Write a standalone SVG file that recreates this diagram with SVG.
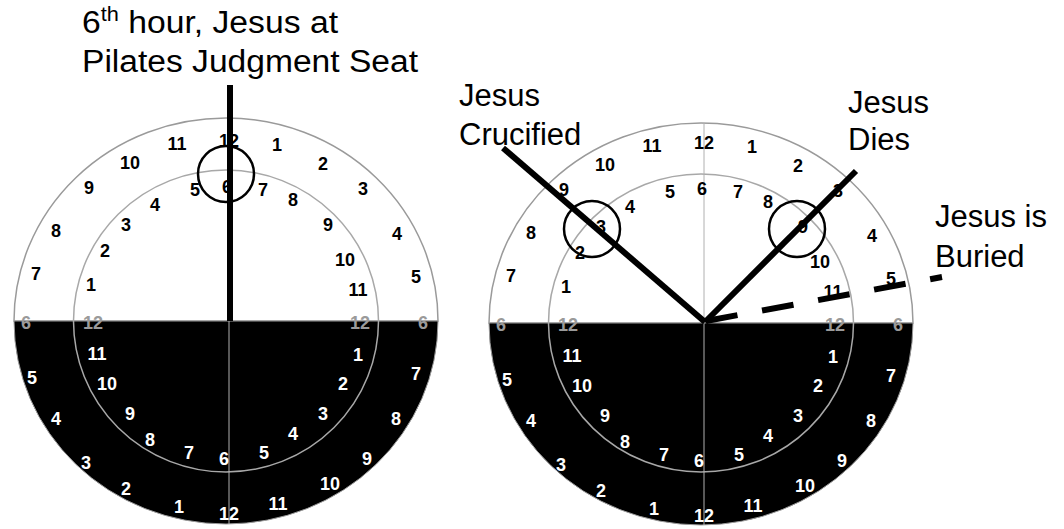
<svg xmlns="http://www.w3.org/2000/svg" width="1064" height="529" viewBox="0 0 1064 529">
<style>
.up{fill:#fff;stroke:#9a9a9a;stroke-width:1.5}
.dn{fill:#000;stroke:#9a9a9a;stroke-width:1}
.ring{fill:none;stroke:#a8a8a8;stroke-width:1.5}
.axis{stroke:#b0b0b0;stroke-width:1}
.n{font-family:"Liberation Sans",Arial,sans-serif;font-weight:bold;font-size:18px;text-anchor:middle}
.b{fill:#000}
.w{fill:#fff}
.g{fill:#9a9a9a}
.lbl{font-family:"Liberation Sans",Arial,sans-serif;font-size:31px;fill:#000}
.hand{stroke:#000;stroke-width:6;fill:none}
.mark{stroke:#000;stroke-width:2.5;fill:none}
</style>
<rect width="1064" height="529" fill="#fff"/>

<g id="clock-left" transform="translate(226,321)">
<path class="up" d="M-212 0 A212 203 0 0 1 212 0 Z"/>
<path class="dn" d="M-212 0 A212 203 0 0 0 212 0 Z"/>
<ellipse class="ring" cx="0" cy="0" rx="152.5" ry="151"/>
<line class="axis" x1="3" y1="-203" x2="3" y2="203"/>
<g class="n">
<text class="g" x="-200" y="8">6</text>
<text class="b" x="-190" y="-41">7</text>
<text class="b" x="-170" y="-84">8</text>
<text class="b" x="-137" y="-127">9</text>
<text class="b" x="-96" y="-152">10</text>
<text class="b" x="-49" y="-171">11</text>
<text class="b" x="3" y="-174">12</text>
<text class="b" x="51" y="-170">1</text>
<text class="b" x="97" y="-151">2</text>
<text class="b" x="137" y="-126">3</text>
<text class="b" x="171" y="-81">4</text>
<text class="b" x="190" y="-38">5</text>
<text class="g" x="197" y="8">6</text>
<text class="w" x="-194" y="63">5</text>
<text class="w" x="-170" y="104">4</text>
<text class="w" x="-140" y="148">3</text>
<text class="w" x="-100" y="174">2</text>
<text class="w" x="-47" y="192">1</text>
<text class="w" x="3" y="199">12</text>
<text class="w" x="52" y="189">11</text>
<text class="w" x="104" y="169">10</text>
<text class="w" x="141" y="144">9</text>
<text class="w" x="170" y="104">8</text>
<text class="w" x="190" y="59">7</text>
<text class="g" x="-133" y="8">12</text>
<text class="b" x="-135" y="-30">1</text>
<text class="b" x="-121" y="-64">2</text>
<text class="b" x="-100" y="-90">3</text>
<text class="b" x="-71" y="-110">4</text>
<text class="b" x="-31" y="-125">5</text>
<text class="b" x="1" y="-128">6</text>
<text class="b" x="37" y="-125">7</text>
<text class="b" x="67" y="-115">8</text>
<text class="b" x="102" y="-90">9</text>
<text class="b" x="119" y="-55">10</text>
<text class="b" x="132" y="-25">11</text>
<text class="g" x="134" y="8">12</text>
<text class="w" x="-129" y="39">11</text>
<text class="w" x="-119" y="69">10</text>
<text class="w" x="-96" y="99">9</text>
<text class="w" x="-76" y="125">8</text>
<text class="w" x="-37" y="138">7</text>
<text class="w" x="-2" y="144">6</text>
<text class="w" x="38" y="138">5</text>
<text class="w" x="67" y="119">4</text>
<text class="w" x="97" y="99">3</text>
<text class="w" x="117" y="69">2</text>
<text class="w" x="132" y="40">1</text>
</g>
</g>

<g id="clock-right" transform="translate(701,323)">
<path class="up" d="M-212 0 A212 200 0 0 1 212 0 Z"/>
<path class="dn" d="M-212 0 A212 202 0 0 0 212 0 Z"/>
<ellipse class="ring" cx="0" cy="0" rx="152.5" ry="149"/>
<line class="axis" x1="3" y1="-200" x2="3" y2="202"/>
<g class="n">
<text class="g" x="-200" y="8">6</text>
<text class="b" x="-190" y="-41">7</text>
<text class="b" x="-170" y="-84">8</text>
<text class="b" x="-137" y="-127">9</text>
<text class="b" x="-96" y="-152">10</text>
<text class="b" x="-49" y="-171">11</text>
<text class="b" x="3" y="-174">12</text>
<text class="b" x="51" y="-170">1</text>
<text class="b" x="97" y="-151">2</text>
<text class="b" x="137" y="-126">3</text>
<text class="b" x="171" y="-81">4</text>
<text class="b" x="190" y="-38">5</text>
<text class="g" x="197" y="8">6</text>
<text class="w" x="-194" y="63">5</text>
<text class="w" x="-170" y="104">4</text>
<text class="w" x="-140" y="148">3</text>
<text class="w" x="-100" y="174">2</text>
<text class="w" x="-47" y="192">1</text>
<text class="w" x="3" y="199">12</text>
<text class="w" x="52" y="189">11</text>
<text class="w" x="104" y="169">10</text>
<text class="w" x="141" y="144">9</text>
<text class="w" x="170" y="104">8</text>
<text class="w" x="190" y="59">7</text>
<text class="g" x="-133" y="8">12</text>
<text class="b" x="-135" y="-30">1</text>
<text class="b" x="-121" y="-64">2</text>
<text class="b" x="-100" y="-90">3</text>
<text class="b" x="-71" y="-110">4</text>
<text class="b" x="-31" y="-125">5</text>
<text class="b" x="1" y="-128">6</text>
<text class="b" x="37" y="-125">7</text>
<text class="b" x="67" y="-115">8</text>
<text class="b" x="102" y="-90">9</text>
<text class="b" x="119" y="-55">10</text>
<text class="b" x="132" y="-25">11</text>
<text class="g" x="134" y="8">12</text>
<text class="w" x="-129" y="39">11</text>
<text class="w" x="-119" y="69">10</text>
<text class="w" x="-96" y="99">9</text>
<text class="w" x="-76" y="125">8</text>
<text class="w" x="-37" y="138">7</text>
<text class="w" x="-2" y="144">6</text>
<text class="w" x="38" y="138">5</text>
<text class="w" x="67" y="119">4</text>
<text class="w" x="97" y="99">3</text>
<text class="w" x="117" y="69">2</text>
<text class="w" x="132" y="40">1</text>
</g>
</g>

<g id="connectors">
<line class="hand" x1="230" y1="85" x2="230" y2="321"/>
<line class="hand" x1="503" y1="148" x2="705" y2="322"/>
<line class="hand" x1="705" y1="322" x2="856" y2="171"/>
<line class="hand" x1="706" y1="321" x2="942" y2="277" stroke-dasharray="32 25"/>
<circle class="mark" cx="226" cy="174" r="28"/>
<circle class="mark" cx="592" cy="229" r="28"/>
<circle class="mark" cx="797" cy="229" r="28"/>
</g>

<g id="label-pilate">
<text class="lbl" x="82" y="33" font-size="32" textLength="256" lengthAdjust="spacingAndGlyphs">6<tspan font-size="20" dy="-12">th</tspan><tspan dy="12"> hour, Jesus at</tspan></text>
<text class="lbl" x="82" y="72" textLength="336" lengthAdjust="spacingAndGlyphs">Pilates Judgment Seat</text>
</g>
<g id="label-crucified">
<text class="lbl" x="459" y="106">Jesus</text>
<text class="lbl" x="459" y="145">Crucified</text>
</g>
<g id="label-dies">
<text class="lbl" x="848" y="113">Jesus</text>
<text class="lbl" x="848" y="150">Dies</text>
</g>
<g id="label-buried">
<text class="lbl" x="935" y="227">Jesus is</text>
<text class="lbl" x="935" y="267">Buried</text>
</g>
</svg>
